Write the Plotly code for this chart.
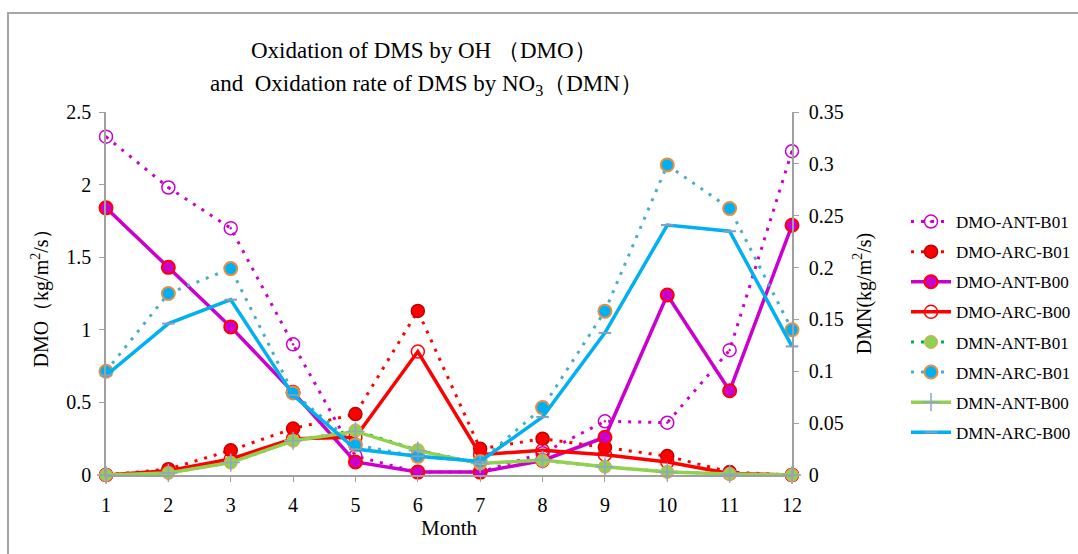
import plotly.graph_objects as go

months = list(range(1, 13))

dmo_ant_b01 = [2.33, 1.98, 1.70, 0.90, 0.13, 0.02, 0.02, 0.15, 0.37, 0.36, 0.86, 2.23]
dmo_arc_b01 = [0.00, 0.04, 0.17, 0.32, 0.42, 1.13, 0.18, 0.25, 0.19, 0.13, 0.02, 0.00]
dmo_ant_b00 = [1.84, 1.43, 1.02, 0.57, 0.09, 0.02, 0.02, 0.10, 0.26, 1.24, 0.58, 1.72]
dmo_arc_b00 = [0.00, 0.03, 0.11, 0.25, 0.26, 0.85, 0.14, 0.17, 0.14, 0.09, 0.01, 0.00]

dmn_ant_b01 = [0.000, 0.002, 0.012, 0.033, 0.043, 0.024, 0.011, 0.014, 0.008, 0.003, 0.001, 0.000]
dmn_arc_b01 = [0.100, 0.175, 0.199, 0.079, 0.029, 0.018, 0.013, 0.065, 0.158, 0.299, 0.257, 0.140]
dmn_ant_b00 = [0.000, 0.002, 0.012, 0.033, 0.042, 0.0235, 0.011, 0.0145, 0.008, 0.003, 0.001, 0.000]
dmn_arc_b00 = [0.096, 0.146, 0.169, 0.077, 0.025, 0.018, 0.013, 0.056, 0.137, 0.241, 0.235, 0.124]

left_ticks = [0, 0.5, 1, 1.5, 2, 2.5]
right_ticks = [0, 0.05, 0.1, 0.15, 0.2, 0.25, 0.3, 0.35]

FONT = "Liberation Serif, Times New Roman, serif"
MAG = "#CC00CC"
RED = "#FF0000"
LGREEN = "#92D050"
DGREEN = "#00B050"
CYAN = "#00B0F0"
TEAL = "#4BACC6"
DOT = "3px,7px"

fig = go.Figure()

def add(name, y, yaxis, line, marker, group):
    fig.add_trace(go.Scatter(
        x=months, y=y, name=name, mode="lines+markers", yaxis=yaxis,
        line=line, marker=marker, cliponaxis=False, legendgroup=group))

add("DMO-ANT-B01", dmo_ant_b01, "y",
    dict(color=MAG, width=3, dash=DOT),
    dict(symbol="circle-open-dot", size=13, color=MAG, line=dict(color=MAG, width=1.5)), "g1")
add("DMO-ARC-B01", dmo_arc_b01, "y",
    dict(color=RED, width=3, dash=DOT),
    dict(symbol="circle", size=13, color=RED, line=dict(color="#C00000", width=1.5)), "g2")
add("DMO-ANT-B00", dmo_ant_b00, "y",
    dict(color=MAG, width=3.5),
    dict(symbol="circle", size=13, color=MAG, line=dict(color=RED, width=2)), "g3")
add("DMO-ARC-B00", dmo_arc_b00, "y",
    dict(color=RED, width=3.5),
    dict(symbol="circle-open", size=13, color=RED, line=dict(color=RED, width=1.5)), "g4")
add("DMN-ANT-B01", dmn_ant_b01, "y2",
    dict(color=DGREEN, width=3, dash=DOT),
    dict(symbol="circle", size=13, color=LGREEN, line=dict(color="#E4A060", width=1)), "g5")
add("DMN-ARC-B01", dmn_arc_b01, "y2",
    dict(color=TEAL, width=3, dash=DOT),
    dict(symbol="circle", size=13, color=CYAN, line=dict(color="#E0904A", width=2)), "g6")
add("DMN-ANT-B00", dmn_ant_b00, "y2",
    dict(color=LGREEN, width=3.5),
    dict(symbol="cross-thin-open", size=13, color="#8EA4C8", line=dict(color="#8EA4C8", width=1.5)), "g7")
add("DMN-ARC-B00", dmn_arc_b00, "y2",
    dict(color=CYAN, width=3.5),
    dict(symbol="line-ew-open", size=9, color="#7FA0C0", line=dict(color="#7FA0C0", width=2)), "g8")

axis_common = dict(showgrid=False, zeroline=False, showline=True, linecolor="#A0A0A0",
                   linewidth=1.5, ticks="outside", ticklen=5, tickcolor="#A0A0A0",
                   automargin=False,
                   tickfont=dict(family=FONT, size=20, color="#000"))

fig.update_layout(
    width=1078, height=554,
    margin=dict(l=106, r=286, t=112, b=79, autoexpand=False),
    paper_bgcolor="white", plot_bgcolor="white",
    font=dict(family=FONT, size=18, color="#000"),
    xaxis=dict(range=[1, 12], tickvals=months, ticklabelstandoff=6, **axis_common,
               title=dict(text="Month", font=dict(family=FONT, size=21), standoff=6)),
    yaxis=dict(range=[0, 2.5], tickvals=left_ticks, ticklabelstandoff=4, **axis_common,
               title=dict(text="DMO（kg/m<sup>2</sup>/s）", font=dict(family=FONT, size=20), standoff=12)),
    yaxis2=dict(range=[0, 0.35], tickvals=right_ticks, overlaying="y", side="right",
                ticklabelstandoff=6, **axis_common,
                title=dict(text="DMN(kg/m<sup>2</sup>/s)", font=dict(family=FONT, size=20), standoff=14)),
    legend=dict(xref="container", yref="container", x=906 / 1078, xanchor="left",
                y=1 - 204 / 554, yanchor="top", bgcolor="rgba(0,0,0,0)",
                font=dict(family=FONT, size=17), traceorder="grouped", tracegroupgap=5,
                itemwidth=40),
    showlegend=True,
)

fig.add_annotation(text="Oxidation of DMS by OH （DMO）", xref="paper", yref="paper",
                   x=(424 - 106) / 686, y=(475 - 50) / 363, showarrow=False,
                   xanchor="center", yanchor="middle", font=dict(family=FONT, size=23))
fig.add_annotation(text="and  Oxidation rate of DMS by NO<sub>3</sub>（DMN）", xref="paper", yref="paper",
                   x=(426 - 106) / 686, y=(475 - 85) / 363, showarrow=False,
                   xanchor="center", yanchor="middle", font=dict(family=FONT, size=23))

# outer chart border
fig.add_shape(type="rect", xref="paper", yref="paper",
              x0=(8 - 106) / 686, x1=(1090 - 106) / 686,
              y0=(475 - 570) / 363, y1=(475 - 13) / 363,
              line=dict(color="#A6A6A6", width=2), fillcolor="rgba(0,0,0,0)", layer="below")

fig.write_html("out.html")
